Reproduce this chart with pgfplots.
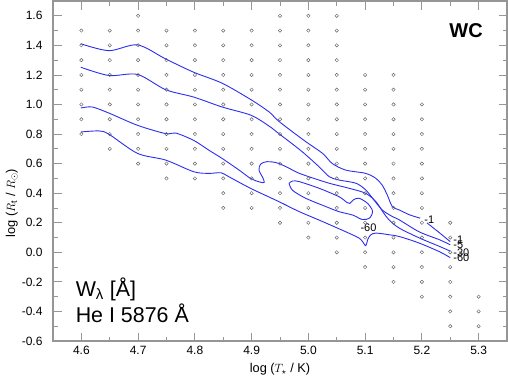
\documentclass[border=0pt]{standalone}
\usepackage{fontspec}
\setmainfont{Liberation Sans}
\usepackage{pgfplots}
\pgfplotsset{compat=1.18}
\definecolor{cblue}{RGB}{45,45,240}
\definecolor{framegray}{RGB}{150,150,150}
\definecolor{ptgray}{RGB}{100,100,100}
\begin{document}
\begin{tikzpicture}
\begin{axis}[
  scale only axis, width=454pt, height=340pt,
  xmin=4.55, xmax=5.35, ymin=-0.6, ymax=1.7,
  xtick={4.6,4.7,4.8,4.9,5.0,5.1,5.2,5.3},
  ytick={-0.6,-0.4,-0.2,0,0.2,0.4,0.6,0.8,1.0,1.2,1.4,1.6},
  minor x tick num=1, minor y tick num=1,
  tick align=inside, major tick length=8.5pt, minor tick length=4.5pt,
  axis line style={framegray, line width=1.1pt},
  tick style={framegray, line width=0.8pt},
  /pgf/number format/assume math mode=true,
  tick label style={font=\fontsize{12}{14}\selectfont},
  xticklabel style={yshift=-1.5pt, /pgf/number format/.cd, fixed, fixed zerofill, precision=1},
  yticklabel style={xshift=-7pt, /pgf/number format/.cd, fixed, fixed zerofill, precision=1},
  xlabel={log ($T_\star$ / K)},
  ylabel={log ($R_{\rm t}$ / $R_\odot$)},
  label style={font=\fontsize{12.8}{14}\selectfont},
  xlabel style={at={(axis description cs:0.5,-0.094)}, anchor=base},
  ylabel style={at={(axis description cs:-0.0837,0.406)}, anchor=base},
]
% model grid points
\addplot[only marks, mark=o, mark size=1.7pt, mark options={ptgray, line width=0.45pt}] coordinates {
(4.6,0.8)(4.6,0.9)(4.6,1.0)(4.6,1.1)(4.6,1.2)(4.6,1.3)(4.6,1.4)(4.6,1.5)
(4.65,0.7)(4.65,0.8)(4.65,0.9)(4.65,1.0)(4.65,1.1)(4.65,1.2)(4.65,1.3)(4.65,1.4)(4.65,1.5)
(4.7,0.6)(4.7,0.7)(4.7,0.8)(4.7,0.9)(4.7,1.0)(4.7,1.1)(4.7,1.2)(4.7,1.3)(4.7,1.4)(4.7,1.5)(4.7,1.6)
(4.75,0.5)(4.75,0.6)(4.75,0.7)(4.75,0.8)(4.75,0.9)(4.75,1.0)(4.75,1.1)(4.75,1.2)(4.75,1.3)(4.75,1.4)(4.75,1.5)
(4.8,0.5)(4.8,0.6)(4.8,0.7)(4.8,0.8)(4.8,0.9)(4.8,1.0)(4.8,1.1)(4.8,1.2)(4.8,1.3)(4.8,1.4)(4.8,1.5)
(4.85,0.3)(4.85,0.4)(4.85,0.5)(4.85,0.6)(4.85,0.7)(4.85,0.8)(4.85,0.9)(4.85,1.0)(4.85,1.1)(4.85,1.2)(4.85,1.3)(4.85,1.4)(4.85,1.5)
(4.9,0.3)(4.9,0.4)(4.9,0.5)(4.9,0.6)(4.9,0.7)(4.9,0.8)(4.9,0.9)(4.9,1.0)(4.9,1.1)(4.9,1.2)(4.9,1.3)(4.9,1.4)(4.9,1.5)
(4.95,0.2)(4.95,0.3)(4.95,0.4)(4.95,0.5)(4.95,0.6)(4.95,0.7)(4.95,0.8)(4.95,0.9)(4.95,1.0)(4.95,1.1)(4.95,1.2)(4.95,1.3)(4.95,1.4)(4.95,1.5)(4.95,1.6)
(5.0,0.1)(5.0,0.2)(5.0,0.3)(5.0,0.4)(5.0,0.5)(5.0,0.6)(5.0,0.7)(5.0,0.8)(5.0,0.9)(5.0,1.0)(5.0,1.1)(5.0,1.2)(5.0,1.3)(5.0,1.4)(5.0,1.5)(5.0,1.6)
(5.05,0.0)(5.05,0.1)(5.05,0.2)(5.05,0.3)(5.05,0.4)(5.05,0.5)(5.05,0.6)(5.05,0.7)(5.05,0.8)(5.05,0.9)(5.05,1.0)(5.05,1.1)(5.05,1.2)(5.05,1.3)(5.05,1.4)(5.05,1.5)(5.05,1.6)
(5.1,-0.1)(5.1,0.0)(5.1,0.1)(5.1,0.2)(5.1,0.3)(5.1,0.4)(5.1,0.5)(5.1,0.6)(5.1,0.7)(5.1,0.8)(5.1,0.9)(5.1,1.0)(5.1,1.1)(5.1,1.2)
(5.15,-0.2)(5.15,-0.1)(5.15,0.0)(5.15,0.1)(5.15,0.2)(5.15,0.3)(5.15,0.4)(5.15,0.5)(5.15,0.6)(5.15,0.7)(5.15,0.8)(5.15,0.9)(5.15,1.0)(5.15,1.1)(5.15,1.2)
(5.2,-0.3)(5.2,-0.2)(5.2,-0.1)(5.2,0.0)(5.2,0.1)(5.2,0.2)(5.2,0.3)(5.2,0.4)(5.2,0.5)(5.2,0.6)(5.2,0.7)(5.2,0.8)(5.2,0.9)(5.2,1.0)
(5.25,-0.5)(5.25,-0.4)(5.25,-0.3)(5.25,-0.2)(5.25,-0.1)(5.25,0.0)(5.25,0.1)(5.25,0.2)
(5.3,-0.5)(5.3,-0.4)(5.3,-0.3)
};
% contour -1
\addplot[cblue, line width=0.9pt, smooth, tension=0.5] coordinates {
(4.599,1.411)(4.6485,1.364)(4.699,1.403)(4.7485,1.308)(4.798,1.218)(4.848,1.144)(4.899,1.032)(4.931,0.949)(4.948,0.886)(4.992,0.758)(5.025,0.669)(5.042,0.601)(5.066,0.556)(5.101,0.534)(5.119,0.500)(5.130,0.455)(5.139,0.388)(5.148,0.309)(5.160,0.287)(5.178,0.254)(5.197,0.231)
};
\addplot[cblue, line width=0.9pt, smooth, tension=0.5] coordinates {
(5.209,0.199)(5.231,0.132)(5.250,0.072)
};
% contour -5
\addplot[cblue, line width=0.9pt, smooth, tension=0.5] coordinates {
(4.599,1.252)(4.6485,1.196)(4.699,1.203)(4.7485,1.100)(4.798,1.050)(4.848,0.983)(4.899,0.927)(4.931,0.853)(4.948,0.803)(4.988,0.684)(5.019,0.578)(5.037,0.511)(5.054,0.489)(5.084,0.467)(5.101,0.422)(5.113,0.366)(5.130,0.287)(5.148,0.242)(5.160,0.220)(5.195,0.139)(5.231,0.085)(5.250,0.051)
};
% contour -30
\addplot[cblue, line width=0.9pt, smooth, tension=0.5] coordinates {
(4.599,0.976)(4.619,0.983)(4.6485,0.942)(4.699,0.859)(4.7485,0.803)(4.766,0.807)(4.798,0.757)(4.825,0.690)(4.848,0.635)(4.878,0.556)(4.898,0.500)(4.913,0.477)(4.922,0.472)(4.920,0.502)(4.913,0.556)(4.916,0.597)(4.927,0.613)(4.948,0.601)(4.984,0.534)(5.001,0.511)(5.037,0.467)(5.072,0.433)(5.101,0.399)(5.119,0.343)(5.131,0.275)(5.142,0.220)(5.160,0.164)(5.195,0.098)(5.231,0.040)(5.250,0.008)
};
% contour -60
\addplot[cblue, line width=0.9pt, smooth, tension=0.5] coordinates {
(4.599,0.814)(4.631,0.821)(4.6485,0.799)(4.699,0.669)(4.7485,0.624)(4.798,0.545)(4.825,0.534)(4.846,0.538)(4.860,0.511)(4.898,0.433)(4.948,0.343)(4.984,0.275)(5.025,0.208)(5.084,0.107)(5.095,0.075)(5.101,0.045)(5.105,0.090)(5.110,0.118)(5.119,0.130)(5.142,0.119)(5.160,0.107)(5.195,0.063)(5.231,0.004)(5.250,-0.036)
};
% inner closed contour
\addplot[cblue, line width=0.9pt, smooth, tension=0.5] coordinates {
(4.966,0.467)(4.972,0.482)(4.984,0.478)(5.019,0.433)(5.054,0.376)(5.068,0.337)(5.073,0.331)(5.079,0.354)(5.089,0.366)(5.104,0.332)(5.113,0.280)(5.108,0.232)(5.095,0.222)(5.078,0.252)(5.054,0.275)(5.031,0.309)(4.995,0.366)(4.972,0.420)(4.966,0.467)
};
% contour labels
\node[font=\fontsize{11}{12}\selectfont, inner sep=0pt] at (axis cs:5.106,0.168) {-60};
\node[font=\fontsize{11}{12}\selectfont, inner sep=0pt] at (axis cs:5.213,0.220) {-1};
\node[font=\fontsize{11}{12}\selectfont, inner sep=0pt, anchor=west] at (axis cs:5.2552,0.086) {-1};
\node[font=\fontsize{11}{12}\selectfont, inner sep=0pt, anchor=west] at (axis cs:5.2552,0.050) {-5};
\node[font=\fontsize{11}{12}\selectfont, inner sep=0pt, anchor=west] at (axis cs:5.2552,-0.001) {-30};
\node[font=\fontsize{11}{12}\selectfont, inner sep=0pt, anchor=west] at (axis cs:5.2552,-0.034) {-60};
% annotations
\node[font=\fontsize{20}{24}\selectfont\bfseries, inner sep=0pt] at (axis cs:5.278,1.499) {WC};
\node[font=\fontsize{21.4}{24}\selectfont, inner sep=0pt, anchor=base west] at (axis cs:4.5898,-0.297) {W\textsubscript{λ} [Å]};
\node[font=\fontsize{21.4}{24}\selectfont, inner sep=0pt, anchor=base west] at (axis cs:4.5898,-0.476) {He I 5876 Å};
\end{axis}
\pgfresetboundingbox
\path (current axis.south west) ++(-53pt,-37pt) coordinate (bl);
\path (current axis.north east) ++(1pt,1pt) coordinate (tr);
\useasboundingbox (bl) rectangle (tr);
\end{tikzpicture}
\end{document}
